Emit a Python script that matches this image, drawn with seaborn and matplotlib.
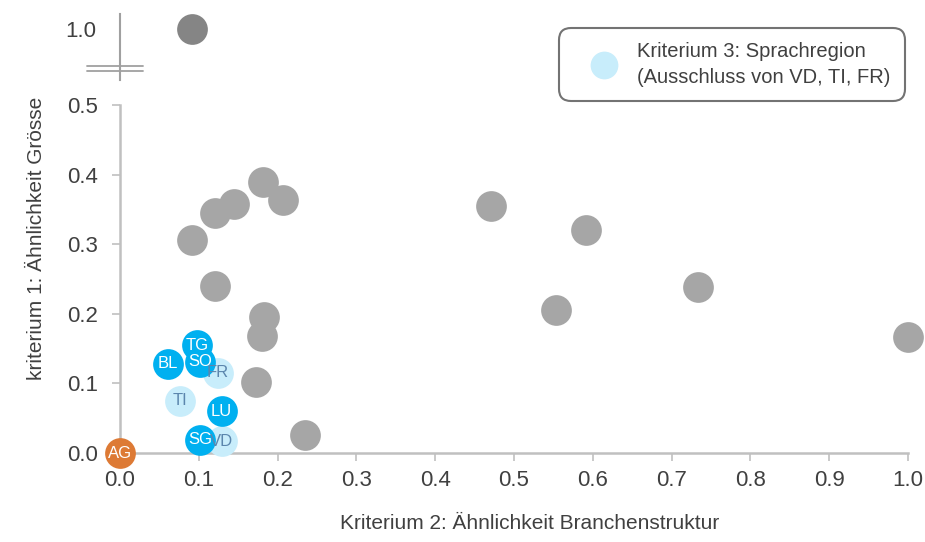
import seaborn as sns
import matplotlib.pyplot as plt
import pandas as pd
from matplotlib.lines import Line2D

sns.set_style("white")
plt.rcParams['font.family'] = ['Liberation Sans', 'DejaVu Sans']

# other cantons (grey)
gray_x = [0.091, 0.121, 0.145, 0.181, 0.207, 0.121, 0.183, 0.180, 0.173, 0.235,
          0.471, 0.591, 0.553, 0.733, 1.0]
gray_y = [0.306, 0.345, 0.358, 0.389, 0.363, 0.240, 0.195, 0.168, 0.102, 0.026,
          0.355, 0.320, 0.205, 0.238, 0.167]

# outlier above the axis break
top_x = [0.091]
top_y = [1.0]

# labelled cantons
cantons = ['AG', 'TI', 'FR', 'VD', 'BL', 'TG', 'SO', 'LU', 'SG']
canton_x = [0.0, 0.076, 0.124, 0.129, 0.061, 0.098, 0.102, 0.129, 0.102]
canton_y = [0.0, 0.075, 0.115, 0.017, 0.128, 0.155, 0.131, 0.060, 0.019]
canton_group = ['ref', 'sprache', 'sprache', 'sprache', 'ok', 'ok', 'ok', 'ok', 'ok']

colors = {'ref': '#dd7a35', 'ok': '#00b0f0', 'sprache': '#c8edfb', 'gray': '#a6a6a6'}
text_colors = {'ref': 'white', 'ok': 'white', 'sprache': '#5b86ad'}

x_ticks = [0.0, 0.1, 0.2, 0.3, 0.4, 0.5, 0.6, 0.7, 0.8, 0.9, 1.0]
y_ticks = [0.0, 0.1, 0.2, 0.3, 0.4, 0.5]

gray_df = pd.DataFrame({'x': gray_x, 'y': gray_y})
canton_df = pd.DataFrame({'x': canton_x, 'y': canton_y, 'group': canton_group, 'name': cantons})

fig = plt.figure(figsize=(9.25, 5.42), dpi=100)
ax = fig.add_axes([0.1297, 0.1642, 0.8519, 0.6421])
ax_top = fig.add_axes([0.1297, 0.8524, 0.8519, 0.1218])

size = 490
txt = '#404040'

sns.scatterplot(data=gray_df, x='x', y='y', color=colors['gray'], s=size,
                linewidth=0, ax=ax, legend=False, zorder=3, clip_on=False)
for grp in ['sprache', 'ok', 'ref']:
    sub = canton_df[canton_df['group'] == grp]
    sns.scatterplot(data=sub, x='x', y='y', color=colors[grp], s=size,
                    linewidth=0, ax=ax, legend=False, zorder=4, clip_on=False)
for _, r in canton_df.iterrows():
    ax.text(r['x'], r['y'], r['name'], ha='center', va='center', fontsize=12,
            color=text_colors[r['group']], zorder=5, clip_on=False)

ax.set_xlim(0, 1.0)
ax.set_ylim(0, 0.5)
ax.set_xticks(x_ticks)
ax.set_yticks(y_ticks)
ax.set_xticklabels([f'{t:.1f}' for t in x_ticks])
ax.set_yticklabels([f'{t:.1f}' for t in y_ticks])
sns.despine(ax=ax)
for s in ['left', 'bottom']:
    ax.spines[s].set_color('#c0c0c0')
    ax.spines[s].set_linewidth(1.8)
ax.tick_params(axis='both', direction='out', length=6, width=1.2, color='#c0c0c0',
               labelsize=16, labelcolor=txt)
ax.tick_params(axis='x', bottom=True, pad=6)
ax.tick_params(axis='y', left=True, pad=10)
ax.set_xlabel('Kriterium 2: Ähnlichkeit Branchenstruktur', fontsize=15, color=txt)
ax.set_ylabel('kriterium 1: Ähnlichkeit Grösse', fontsize=15, color=txt)
ax.xaxis.set_label_coords(0.52, -0.174)
ax.yaxis.set_label_coords(-0.094, 0.618)

# upper part of the broken axis
top_df = pd.DataFrame({'x': top_x, 'y': top_y})
sns.scatterplot(data=top_df, x='x', y='y', color='#858585', s=size, linewidth=0,
                ax=ax_top, legend=False, clip_on=False)
ax_top.set_xlim(0, 1.0)
ax_top.set_ylim(0.9, 1.03)
ax_top.set_yticks([1.0])
ax_top.set_yticklabels(['1.0'])
ax_top.set_xticks([])
ax_top.set_xlabel('')
ax_top.set_ylabel('')
for s in ['top', 'right', 'bottom']:
    ax_top.spines[s].set_visible(False)
ax_top.spines['left'].set_color('#a0a0a0')
ax_top.spines['left'].set_linewidth(1.5)
ax_top.tick_params(axis='y', length=0, labelsize=16, labelcolor=txt, pad=17)
for yy in [0.918, 0.928]:
    ax_top.plot([-0.042, 0.029], [yy, yy], color='#a0a0a0', lw=1.3, clip_on=False)

# legend
handle = Line2D([], [], marker='o', linestyle='', markersize=20,
                markerfacecolor=colors['sprache'], markeredgewidth=0)
leg = fig.legend([handle], ['Kriterium 3: Sprachregion\n(Ausschluss von VD, TI, FR)'],
                 loc='upper right', bbox_to_anchor=(0.978, 0.948), borderaxespad=0,
                 frameon=True, fancybox=True, borderpad=0.7, handlelength=3.1,
                 handletextpad=0.1, prop={'size': 14.5})
frame = leg.get_frame()
frame.set_edgecolor('#505050')
frame.set_linewidth(1.5)
frame.set_boxstyle('round,pad=0,rounding_size=0.6')
for t in leg.get_texts():
    t.set_color(txt)
    t.set_linespacing(1.45)

plt.savefig('out.png', dpi=100)
